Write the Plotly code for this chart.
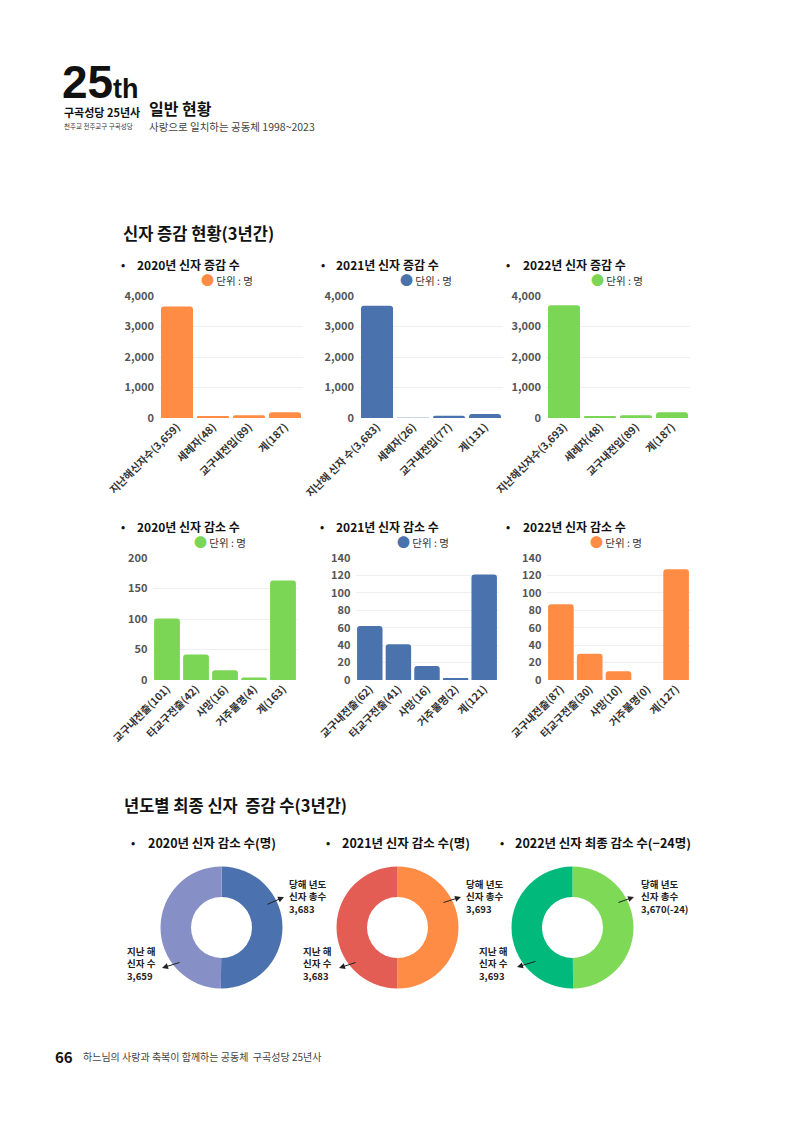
import plotly.graph_objects as go

W, H = 800, 1131
FONT = "Noto Sans CJK KR, Noto Sans, sans-serif"

ORANGE = "#FF8C45"
BLUE = "#4A72AD"
GREEN = "#7BD655"
PALE_BLUE = "#C9D5E8"

# ---------- data ----------
inc_2020_cats = ["지난해신자수(3,659)", "세례자(48)", "교구내전입(89)", "계(187)"]
inc_2020_vals = [3659, 48, 89, 187]
inc_2021_cats = ["지난해 신자 수(3,683)", "세례자(26)", "교구내전입(77)", "계(131)"]
inc_2021_vals = [3683, 26, 77, 131]
inc_2022_cats = ["지난해신자수(3,693)", "세례자(48)", "교구내전입(89)", "계(187)"]
inc_2022_vals = [3693, 48, 89, 187]

dec_2020_cats = ["교구내전출(101)", "타교구전출(42)", "사망(16)", "거주불명(4)", "계(163)"]
dec_2020_vals = [101, 42, 16, 4, 163]
dec_2021_cats = ["교구내전출(62)", "타교구전출(41)", "사망(16)", "거주불명(2)", "계(121)"]
dec_2021_vals = [62, 41, 16, 2, 121]
dec_2022_cats = ["교구내전출(87)", "타교구전출(30)", "사망(10)", "거주불명(0)", "계(127)"]
dec_2022_vals = [87, 30, 10, 0, 127]

donut_labels = ["당해 년도 신자 총수", "지난 해 신자 수"]
donut_2020 = [3683, 3659]
donut_2021 = [3693, 3683]
donut_2022 = [3670, 3693]
donut_right_text = ["당해 년도<br>신자 총수<br>3,683", "당해 년도<br>신자 총수<br>3,693", "당해 년도<br>신자 총수<br>3,670(-24)"]
donut_left_text = ["지난 해<br>신자 수<br>3,659", "지난 해<br>신자 수<br>3,683", "지난 해<br>신자 수<br>3,693"]


def px(x):
    return x / W


def py(y):
    return 1 - y / H


fig = go.Figure()
layout_axes = {}
annotations = []

bar_specs = [
    # cats, vals, colors, x0, x1, ytop, ybot, ymax, dtick, fmt
    (inc_2020_cats, inc_2020_vals, ORANGE, 159, 303, 296, 418, 4000, 1000, ","),
    (inc_2021_cats, inc_2021_vals, [BLUE, PALE_BLUE, BLUE, BLUE], 359, 503, 296, 418, 4000, 1000, ","),
    (inc_2022_cats, inc_2022_vals, GREEN, 546, 690, 296, 418, 4000, 1000, ","),
    (dec_2020_cats, dec_2020_vals, GREEN, 152.5, 297.5, 558, 680, 200, 50, ""),
    (dec_2021_cats, dec_2021_vals, BLUE, 355.5, 498.5, 558, 680, 140, 20, ""),
    (dec_2022_cats, dec_2022_vals, ORANGE, 546.5, 690.5, 558, 680, 140, 20, ""),
]

for i, (cats, vals, col, x0, x1, yt, yb, ymax, dt, fmt) in enumerate(bar_specs, start=1):
    xa = "x" if i == 1 else f"x{i}"
    ya = "y" if i == 1 else f"y{i}"
    fig.add_trace(go.Bar(x=cats, y=vals, marker=dict(color=col, line=dict(width=0)),
                         xaxis=xa, yaxis=ya, showlegend=False, hoverinfo="x+y"))
    layout_axes["xaxis" if i == 1 else f"xaxis{i}"] = dict(
        domain=[px(x0), px(x1)], anchor=ya, showgrid=False, showline=False, ticks="",
        tickangle=-45, tickfont=dict(family=FONT, size=10.5, color="#333333", weight="bold"),
        automargin=False, fixedrange=True)
    layout_axes["yaxis" if i == 1 else f"yaxis{i}"] = dict(
        domain=[py(yb), py(yt)], anchor=xa, range=[0, ymax], dtick=dt, tickformat=fmt,
        showgrid=True, gridcolor="#EFEFEF", gridwidth=1, zeroline=False, showline=False,
        tickfont=dict(family=FONT, size=11, color="#555555", weight="bold"),
        ticklabelstandoff=4, automargin=False, fixedrange=True)

# ---------- donuts ----------
donut_specs = [
    (donut_2020, ["#4B72AE", "#878FC7"], 221.5),
    (donut_2021, ["#FF8C45", "#E35D55"], 397.5),
    (donut_2022, ["#7ED957", "#00B97B"], 572.5),
]
CY, R = 927.5, 61
for vals, cols, cx in donut_specs:
    fig.add_trace(go.Pie(values=vals, labels=donut_labels, hole=0.5, sort=False,
                         direction="clockwise", rotation=0,
                         marker=dict(colors=cols, line=dict(width=0)),
                         textinfo="none", showlegend=False,
                         domain=dict(x=[px(cx - R), px(cx + R)], y=[py(CY + R), py(CY - R)])))


def text(x, y, s, size, color="#111111", bold=False, xanchor="left", yanchor="middle", family=FONT, align="left"):
    annotations.append(dict(x=px(x), y=py(y), xref="paper", yref="paper", text=s, showarrow=False,
                            xanchor=xanchor, yanchor=yanchor, align=align, borderpad=0,
                            font=dict(family=family, size=size, color=color,
                                      weight="bold" if bold else "normal")))


def arrow(tx, ty, hx, hy):
    annotations.append(dict(x=px(hx), y=py(hy), xref="paper", yref="paper",
                            ax=tx - hx, ay=ty - hy, axref="pixel", ayref="pixel",
                            text="", showarrow=True, arrowhead=2, arrowsize=1.2,
                            arrowwidth=1, arrowcolor="#222222"))


# ---------- header ----------
COND = "Liberation Sans Narrow, Liberation Sans, Arial, sans-serif"
text(61, 82, "25", 46, "#111111", True, family=COND)
text(112, 88.5, "th", 27, "#111111", True, family=COND)
text(63, 112, "구곡성당 25년사", 11, "#111111", True)
text(63, 126, "천주교 전주교구 구곡성당", 6.5, "#333333")
text(148, 108, "일반 현황", 16, "#111111", True)
text(148, 126, "사랑으로 일치하는 공동체 1998~2023", 10.5, "#444444")

# ---------- section 1 ----------
text(122, 233, "신자 증감 현황(3년간)", 16.5, "#111111", True)


def legend_html(col):
    return f"<span style='color:{col};font-size:13px'>●</span> 단위 : 명"


row1 = [(123, 136, "2020년 신자 증감 수", 207, ORANGE),
        (323, 335, "2021년 신자 증감 수", 406, BLUE),
        (508, 522, "2022년 신자 증감 수", 597, GREEN)]
for bx, tx, s, lx, col in row1:
    text(bx, 264, "•", 11, "#111111", True, xanchor="center")
    text(tx, 264, s, 12, "#111111", True)
    text(lx - 7, 279, legend_html(col), 10.5, "#333333", False)

row2 = [(123, 136, "2020년 신자 감소 수", 200, GREEN),
        (322, 335, "2021년 신자 감소 수", 403, BLUE),
        (508, 522, "2022년 신자 감소 수", 596, ORANGE)]
for bx, tx, s, lx, col in row2:
    text(bx, 526, "•", 11, "#111111", True, xanchor="center")
    text(tx, 526, s, 12, "#111111", True)
    text(lx - 7, 541, legend_html(col), 10.5, "#333333", False)

# ---------- section 2 ----------
text(123, 805, "년도별 최종 신자  증감 수(3년간)", 16.5, "#111111", True)
row3 = [(133, 147, "2020년 신자 감소 수(명)"),
        (328, 341, "2021년 신자 감소 수(명)"),
        (502, 514, "2022년 신자 최종 감소 수(−24명)")]
for bx, tx, s in row3:
    text(bx, 842, "•", 11, "#111111", True, xanchor="center")
    text(tx, 842, s, 12.5, "#111111", True)

right_x = [288, 465, 640]
left_x = [126, 302, 478]
arrows_right = [(266, 905, 284, 897), (442, 903, 461, 897), (617, 903, 634, 897)]
arrows_left = [(181, 962, 162, 968), (357, 962, 339, 968), (537, 961, 517, 967)]
for k in range(3):
    text(right_x[k], 896, donut_right_text[k], 9.5, "#222222", True)
    text(left_x[k], 963, donut_left_text[k], 9.5, "#222222", True)
    arrow(*arrows_right[k])
    arrow(*arrows_left[k])

# ---------- footer ----------
text(54, 1056, "66", 15, "#111111", True)
text(82, 1056, "하느님의 사랑과 축복이 함께하는 공동체  구곡성당 25년사", 10, "#444444")

fig.update_layout(
    width=W, height=H, margin=dict(l=0, r=0, t=0, b=0, autoexpand=False),
    paper_bgcolor="white", plot_bgcolor="white",
    bargap=0.11, barcornerradius=3,
    font=dict(family=FONT),
    annotations=annotations,
    **layout_axes,
)

fig.write_html("out.html")
